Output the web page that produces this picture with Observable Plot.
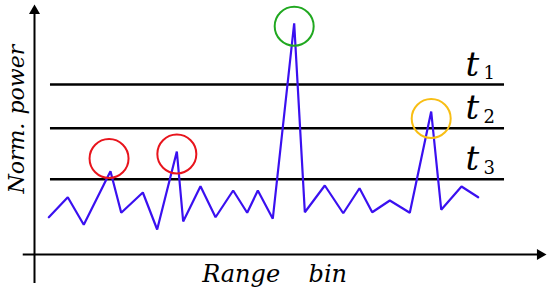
<!DOCTYPE html>
<html><head><meta charset="utf-8">
<script src="https://cdn.jsdelivr.net/npm/d3@7"></script>
<script src="https://cdn.jsdelivr.net/npm/@observablehq/plot@0.6"></script>
<style>html,body{margin:0;padding:0;background:#fff} svg{display:block}</style>
</head><body><div id="chart"></div>
<script>
// Range bin index and normalized power of the received signal
const rangeBins = [1.40, 3.25, 4.81, 7.42, 8.47, 10.58, 11.98, 13.90, 14.52, 16.21, 17.68, 19.40, 20.77, 21.81, 23.27, 25.36, 26.40, 28.35, 30.15, 31.74, 32.98, 34.70, 36.65, 38.74, 39.72, 41.70, 43.33];
const normPower = [0.149, 0.229, 0.119, 0.333, 0.167, 0.248, 0.100, 0.412, 0.132, 0.273, 0.149, 0.256, 0.167, 0.256, 0.143, 0.925, 0.169, 0.276, 0.165, 0.265, 0.169, 0.216, 0.167, 0.572, 0.179, 0.272, 0.229];

// Detection thresholds
const thresholdNames = ["t", "t", "t"];
const thresholdSubs = ["1", "2", "3"];
const thresholdLevels = [0.68, 0.505, 0.301];

// Highlighted peaks
const peakBins = [7.28, 13.90, 25.36, 38.74];
const peakPower = [0.384, 0.402, 0.913, 0.544];
const peakColors = ["#e8141c", "#e8141c", "#20a820", "#f8be14"];

// Axis titles
const xTitleWords = ["Range", "bin"];
const yTitleWords = ["Norm.", "power"];

const signal = rangeBins.map((b, i) => ({bin: b, power: normPower[i]}));
const thresholds = thresholdLevels.map((v, i) => ({level: v, name: thresholdNames[i], sub: thresholdSubs[i]}));
const peaks = peakBins.map((b, i) => ({bin: b, power: peakPower[i], color: peakColors[i]}));

const serif = "'DejaVu Serif', 'Liberation Serif', serif";

const chart = Plot.plot({
  width: 550,
  height: 293,
  marginLeft: 34,
  marginRight: 4,
  marginTop: 4,
  marginBottom: 39,
  x: {domain: [0, 50], axis: null},
  y: {domain: [0, 1], axis: null},
  style: {background: "white", fontFamily: serif, fontStyle: "italic", color: "black"},
  marks: [
    // axes
    Plot.ruleX([0], {y1: -0.116, y2: 0.975, stroke: "black", strokeWidth: 2}),
    Plot.ruleY([0], {x1: -1.1, x2: 49.5, stroke: "black", strokeWidth: 2}),
    Plot.dot([0], {x: 0, y: 1, symbol: "triangle", r: 4.1, fill: "black", stroke: "none", dy: 6.4}),
    Plot.dot([0], {x: 50, y: 0, symbol: "triangle", r: 4.1, fill: "black", stroke: "none", rotate: 90, dx: -6.4}),
    // thresholds
    Plot.ruleY(thresholds, {y: "level", x1: 1.56, x2: 45.9, stroke: "black", strokeWidth: 2.4}),
    // signal
    Plot.line(signal, {x: "bin", y: "power", stroke: "#3a10f0", strokeWidth: 2.2, strokeLinejoin: "miter"}),
    // peak circles
    Plot.dot(peaks, {x: "bin", y: "power", r: 19.5, stroke: "color", strokeWidth: 2, fill: "none"}),
    // threshold labels
    Plot.text(thresholds, {x: 42.1, y: "level", text: "name", dy: -9, lineAnchor: "bottom", textAnchor: "start", fontSize: 34, fontFamily: serif, fontStyle: "italic"}),
    Plot.text(thresholds, {x: 42.1, y: "level", text: "sub", dx: 18, dy: -5.5, lineAnchor: "bottom", textAnchor: "start", fontSize: 18, fontFamily: serif, fontStyle: "normal"}),
    // axis titles
    Plot.text(xTitleWords, {x: (d, i) => [16.37, 26.76][i], y: -0.111, text: d => d, lineAnchor: "bottom", textAnchor: "start", fontSize: 24, fontFamily: serif, fontStyle: "italic"}),
    Plot.text(yTitleWords, {x: -1.07, y: (d, i) => [0.244, 0.56][i], text: d => d, rotate: -90, lineAnchor: "bottom", textAnchor: "start", fontSize: 22, fontFamily: serif, fontStyle: "italic"})
  ]
});
document.getElementById("chart").appendChild(chart);
</script>
</body></html>
